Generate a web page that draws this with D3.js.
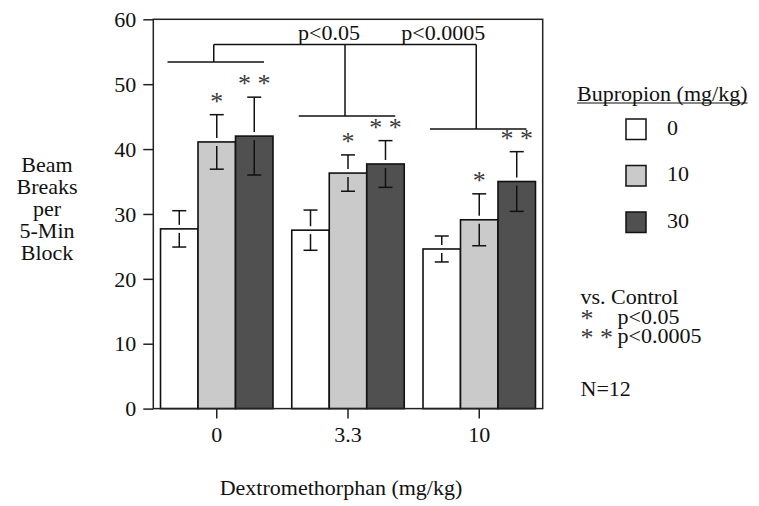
<!DOCTYPE html>
<html>
<head>
<meta charset="utf-8">
<script src="https://cdn.jsdelivr.net/npm/d3@7"></script>
<style>
  html, body { margin: 0; padding: 0; background: #fff; }
  text { font-family: "Liberation Serif", "Times New Roman", serif; fill: #111; }
</style>
</head>
<body>
<svg id="chart" width="759" height="506"></svg>
<script>
// ---- data ----
const categories = ["0", "3.3", "10"];            // Dextromethorphan (mg/kg)
const doses = ["0", "10", "30"];                   // Bupropion (mg/kg)
const bup0  = [27.7, 27.5, 24.6];
const bup10 = [41.1, 36.3, 29.1];
const bup30 = [42.0, 37.7, 35.0];
const err0  = [2.8, 3.1, 2.0];
const err10 = [4.2, 2.8, 4.0];
const err30 = [6.0, 3.6, 4.6];
const stars0  = ["", "", ""];
const stars10 = ["*", "*", "*"];
const stars30 = ["* *", "* *", "* *"];
const yTicks = [0, 10, 20, 30, 40, 50, 60];
const groupBracket = [53.4, 45.1, 43.1];           // per-group bracket level
const topBracket = 56.1;
const bracketLabels = [{ cat: "3.3", text: "p<0.05" }, { cat: "10", text: "p<0.0005" }];
const yLabelLines = ["Beam", "Breaks", "per", "5-Min", "Block"];
const legendNotes = ["vs. Control"];
const sigNotes = [["*", "p<0.05"], ["* *", "p<0.0005"]];
const nNote = "N=12";

const seriesMeans = [bup0, bup10, bup30];
const seriesErr = [err0, err10, err30];
const seriesStars = [stars0, stars10, stars30];
const colors = ["#ffffff", "#cacaca", "#505050"];

const rows = [];
categories.forEach((c, i) => {
  doses.forEach((d, j) => {
    rows.push({ cat: c, dose: d, mean: seriesMeans[j][i], err: seriesErr[j][i], star: seriesStars[j][i], color: colors[j] });
  });
});

// ---- layout ----
const svg = d3.select("#chart");
const pLeft = 153.3, pRight = 542.7, pTop = 19.3, pBottom = 408.6;

const x = d3.scaleBand().domain(categories).range([pLeft, pRight]).paddingInner(0.143).paddingOuter(0.055);
const xi = d3.scaleBand().domain(doses).range([0, x.bandwidth()]);
const y = d3.scaleLinear().domain([0, 60]).range([pBottom, pTop]);

const FS = 22, STAR_FS = 26;
const ink = "#111", starInk = "#3a3a3a";

// bars
const g = svg.append("g");
g.selectAll("rect.bar").data(rows).join("rect")
  .attr("class", "bar")
  .attr("x", d => x(d.cat) + xi(d.dose))
  .attr("y", d => y(d.mean))
  .attr("width", xi.bandwidth())
  .attr("height", d => y(0) - y(d.mean))
  .attr("fill", d => d.color)
  .attr("stroke", ink)
  .attr("stroke-width", 1.6);

// error bars
const gap = 4, capW = 14;
const eb = g.selectAll("g.err").data(rows).join("g").attr("class", "err")
  .attr("transform", d => `translate(${x(d.cat) + xi(d.dose) + xi.bandwidth() / 2},0)`);
eb.append("line").attr("x1", 0).attr("x2", 0)
  .attr("y1", d => y(d.mean) - gap).attr("y2", d => y(d.mean + d.err))
  .attr("stroke", ink).attr("stroke-width", 1.5);
eb.append("line").attr("x1", -capW / 2).attr("x2", capW / 2)
  .attr("y1", d => y(d.mean + d.err)).attr("y2", d => y(d.mean + d.err))
  .attr("stroke", ink).attr("stroke-width", 1.5);
eb.append("line").attr("x1", 0).attr("x2", 0)
  .attr("y1", d => y(d.mean) + gap).attr("y2", d => y(d.mean - d.err))
  .attr("stroke", ink).attr("stroke-width", 1.5);
eb.append("line").attr("x1", -capW / 2).attr("x2", capW / 2)
  .attr("y1", d => y(d.mean - d.err)).attr("y2", d => y(d.mean - d.err))
  .attr("stroke", ink).attr("stroke-width", 1.5);
eb.append("text")
  .attr("x", 0)
  .attr("y", d => y(d.mean + d.err) - 5)
  .attr("text-anchor", "middle")
  .attr("font-size", STAR_FS)
  .style("fill", starInk)
  .text(d => d.star);

// frame
svg.append("rect").attr("x", pLeft).attr("y", pTop).attr("width", pRight - pLeft).attr("height", pBottom - pTop)
  .attr("fill", "none").attr("stroke", "#222").attr("stroke-width", 1.5);

// y axis
const yAxis = svg.append("g").attr("transform", `translate(${pLeft},0)`)
  .call(d3.axisLeft(y).tickValues(yTicks).tickSize(10).tickPadding(7).tickFormat(d3.format("d")));
yAxis.select(".domain").remove();
yAxis.selectAll(".tick line").attr("stroke", "#222").attr("stroke-width", 1.5);
yAxis.selectAll(".tick text").attr("font-size", FS).attr("font-family", "Liberation Serif").attr("dy", "0.33em").style("fill", ink);

// x axis
const xAxis = svg.append("g").attr("transform", `translate(0,${pBottom})`)
  .call(d3.axisBottom(x).tickSize(10).tickPadding(0));
xAxis.select(".domain").remove();
xAxis.selectAll(".tick line").attr("stroke", "#222").attr("stroke-width", 1.5);
xAxis.selectAll(".tick text").attr("font-size", FS).attr("font-family", "Liberation Serif").attr("y", 33).attr("dy", 0).style("fill", ink);

// brackets
const br = svg.append("g").attr("stroke", ink).attr("stroke-width", 1.5);
categories.forEach((c, i) => {
  const cx = x(c) + x.bandwidth() / 2 - 3;
  br.append("line").attr("x1", x(c) + 7).attr("x2", x(c) + x.bandwidth() - 9)
    .attr("y1", y(groupBracket[i])).attr("y2", y(groupBracket[i]));
  br.append("line").attr("x1", cx).attr("x2", cx)
    .attr("y1", y(groupBracket[i])).attr("y2", y(topBracket));
});
br.append("line")
  .attr("x1", x(categories[0]) + x.bandwidth() / 2 - 3)
  .attr("x2", x(categories[categories.length - 1]) + x.bandwidth() / 2 - 3)
  .attr("y1", y(topBracket)).attr("y2", y(topBracket));
bracketLabels.forEach(b => {
  svg.append("text")
    .attr("x", x(b.cat) + x.bandwidth() / 2 - 3 + (b.cat === "3.3" ? -16 : -33))
    .attr("y", y(topBracket) - 5)
    .attr("text-anchor", "middle")
    .attr("font-size", FS)
    .text(b.text);
});

// y label
const yl = svg.append("text").attr("text-anchor", "middle").attr("font-size", FS);
yLabelLines.forEach((t, i) => {
  yl.append("tspan").attr("x", 47).attr("y", 172 + i * 21.9).text(t);
});

// x label
svg.append("text").attr("x", 341).attr("y", 495).attr("text-anchor", "middle").attr("font-size", FS)
  .text("Dextromethorphan (mg/kg)");

// legend
const lt = svg.append("text").attr("x", 577).attr("y", 100.5).attr("font-size", FS).text("Bupropion (mg/kg)");
const ltw = lt.node().getComputedTextLength();
svg.append("line").attr("x1", 577).attr("x2", 577 + ltw).attr("y1", 103).attr("y2", 103)
  .attr("stroke", ink).attr("stroke-width", 1.2);
const leg = svg.append("g").selectAll("g").data(doses).join("g")
  .attr("transform", (d, i) => `translate(626,${119 + i * 46.5})`);
leg.append("rect").attr("width", 20).attr("height", 20.5)
  .attr("fill", (d, i) => colors[i]).attr("stroke", ink).attr("stroke-width", 1.5);
leg.append("text").attr("x", 41).attr("y", 15.5).attr("font-size", FS).text(d => d);

// notes (one text block)
const notes = svg.append("text").attr("font-size", FS);
notes.append("tspan").attr("x", 580.5).attr("y", 303.5).text(legendNotes[0]);
sigNotes.forEach((s, i) => {
  notes.append("tspan").attr("x", 580.5).attr("y", 327 + i * 19).attr("font-size", STAR_FS)
    .style("fill", starInk).text(s[0]);
  notes.append("tspan").attr("x", 617.5).attr("y", 323.5 + i * 19).text(s[1]);
});
notes.append("tspan").attr("x", 580.5).attr("y", 396).text(nNote);
</script>
</body>
</html>
